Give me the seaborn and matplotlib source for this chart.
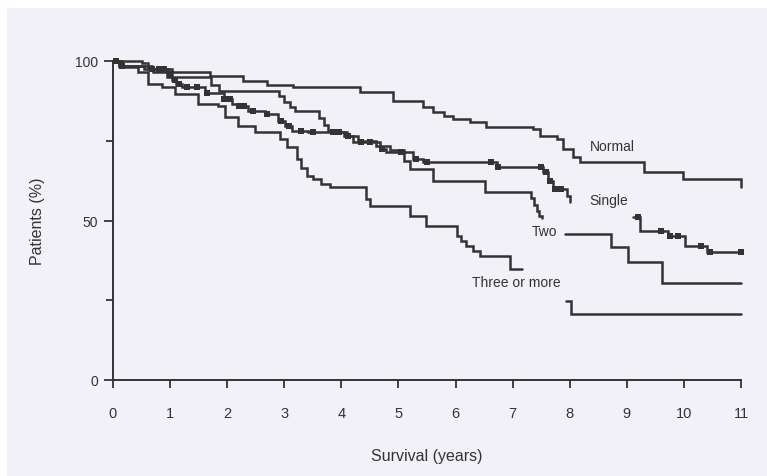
import numpy as np
import pandas as pd
import matplotlib
matplotlib.use("Agg")
import matplotlib.pyplot as plt
from matplotlib.patches import Rectangle
import seaborn as sns

# ---------------- data ----------------
normal_t = [0, 0.5, 0.62, 1.03, 1.7, 2.28, 2.69, 3.16, 4.33, 4.91, 5.43, 5.6, 5.8, 5.95,
            6.25, 6.54, 7.36, 7.48, 7.77, 7.89, 8.05, 8.18, 9.3, 9.99, 11.0]
normal_s = [100, 99.5, 97.5, 96.6, 95.4, 93.6, 92.6, 91.8, 90.4, 87.4, 85.5, 84.0, 82.8, 81.8,
            80.8, 79.2, 78.7, 76.6, 75.5, 72.4, 70.0, 68.2, 65.1, 63.0, 60.5]

single_t1 = [0, 0.1, 0.68, 0.97, 1.03, 1.11, 1.2, 1.61, 1.95, 2.08, 2.19, 2.37, 2.66, 2.89,
             3.01, 3.13, 3.42, 4.09, 4.21, 4.68, 4.79, 5.26, 5.43, 6.72, 7.54, 7.62, 7.71,
             7.95, 8.0]
single_s1 = [100, 98.5, 97.5, 95.9, 94.2, 92.8, 91.8, 90.1, 88.1, 86.5, 86.0, 84.4, 83.4, 81.3,
             79.7, 78.1, 77.6, 76.6, 74.5, 72.4, 71.4, 69.3, 68.2, 66.7, 65.1, 62.5, 59.9,
             57.8, 55.7]
single_t2 = [9.11, 9.23, 9.73, 10.02, 10.41, 11.0]
single_s2 = [51.0, 46.8, 45.2, 42.1, 40.0, 40.0]
single_censor_t = [0.05, 0.15, 0.68, 0.8, 0.9, 1.0, 1.08, 1.15, 1.3, 1.47, 1.65, 1.95, 2.05,
                   2.2, 2.3, 2.45, 2.7, 2.95, 3.08, 3.3, 3.5, 3.85, 3.95, 4.12, 4.35, 4.5,
                   4.72, 5.05, 5.3, 5.5, 6.62, 6.75, 7.5, 7.58, 7.66, 7.75, 7.85,
                   9.2, 9.6, 9.75, 9.9, 10.3, 10.45, 11.0]

two_t1 = [0, 0.1, 0.55, 0.7, 0.94, 1.72, 1.85, 2.9, 3.0, 3.1, 3.19, 3.6, 3.7, 3.77, 3.83,
          4.05, 4.3, 4.6, 4.85, 5.1, 5.2, 5.61, 6.51, 7.33, 7.38, 7.43, 7.47, 7.51]
two_s1 = [100, 98.5, 97.5, 96.5, 94.9, 92.5, 90.5, 89.0, 87.0, 85.5, 84.4, 82.0, 80.0, 78.1,
          77.6, 76.6, 75.0, 73.5, 72.0, 68.5, 66.1, 62.5, 59.0, 57.0, 55.0, 53.0, 51.5, 50.7]
two_t2 = [7.92, 8.73, 9.02, 9.61, 11.0]
two_s2 = [45.8, 41.6, 36.9, 30.4, 30.4]

three_t1 = [0, 0.15, 0.44, 0.62, 0.85, 1.09, 1.49, 1.84, 1.96, 2.19, 2.49, 2.92, 3.05, 3.22,
            3.3, 3.39, 3.51, 3.65, 3.8, 4.44, 4.5, 5.2, 5.49, 6.02, 6.1, 6.19, 6.3, 6.43,
            6.95, 7.16]
three_s1 = [100, 98.0, 96.4, 92.8, 91.8, 89.7, 86.5, 86.0, 82.3, 79.7, 77.6, 75.5, 73.0, 69.3,
            66.5, 64.0, 63.0, 61.5, 60.4, 56.7, 54.6, 51.5, 48.4, 45.2, 43.5, 42.1, 40.5, 39.0,
            34.8, 34.8]
three_t2 = [7.94, 8.03, 11.0]
three_s2 = [24.9, 20.7, 20.7]

curve_labels = ["Normal", "Single", "Two", "Three or more"]
label_x = [8.35, 8.35, 7.34, 6.29]
label_y = [73.5, 56.3, 46.6, 30.6]

x_ticks = list(range(0, 12))
y_ticks = [0, 50, 100]
y_minor = [25, 75]

# ---------------- build table ----------------
segments = [
    ("normal", normal_t, normal_s),
    ("single_a", single_t1, single_s1),
    ("single_b", single_t2, single_s2),
    ("two_a", two_t1, two_s1),
    ("two_b", two_t2, two_s2),
    ("three_a", three_t1, three_s1),
    ("three_b", three_t2, three_s2),
]
rows = []
for name, ts, ss in segments:
    for t, s in zip(ts, ss):
        rows.append({"seg": name, "t": t, "s": s})
df = pd.DataFrame(rows)

# censor marks placed on the Single curve (step lookup of its own values)
def step_value(ts, ss, x):
    i = np.searchsorted(np.asarray(ts), x, side="right") - 1
    return ss[max(i, 0)]

cens_y = []
for c in single_censor_t:
    if c <= single_t1[-1]:
        cens_y.append(step_value(single_t1, single_s1, c))
    else:
        cens_y.append(step_value(single_t2, single_s2, c))
cens = pd.DataFrame({"t": single_censor_t, "s": cens_y})

# ---------------- style ----------------
sns.set_style("ticks")
plt.rcParams["font.family"] = ["Liberation Sans", "DejaVu Sans"]
ink = "#333333"
bg = "#f2f1f8"

fig = plt.figure(figsize=(7.67, 4.77), dpi=100)
fig.patch.set_facecolor("white")
fig.patches.append(Rectangle((7 / 767, 0), 1 - 7 / 767, 1 - 9 / 477,
                             transform=fig.transFigure, facecolor=bg,
                             edgecolor="none", zorder=-10))

ax = fig.add_axes([113 / 767, 1 - 381 / 477, (741 - 113) / 767, (381 - 62) / 477])
ax.set_facecolor("none")

sns.lineplot(data=df, x="t", y="s", units="seg", estimator=None, sort=False,
             drawstyle="steps-post", color=ink, linewidth=1.8, clip_on=False,
             solid_joinstyle="miter", ax=ax, legend=False)
sns.scatterplot(data=cens, x="t", y="s", marker="s", s=17, color=ink,
                linewidth=0, clip_on=False, ax=ax, legend=False, zorder=3)

for lab, lx, ly in zip(curve_labels, label_x, label_y):
    ax.text(lx, ly, lab, fontsize=10, color=ink, ha="left", va="center")

ax.set_xlim(0, 11)
ax.set_ylim(0, 100)
ax.set_xticks(x_ticks)
ax.set_xticklabels([str(v) for v in x_ticks])
ax.set_yticks(y_ticks)
ax.set_yticklabels([str(v) for v in y_ticks])
ax.set_yticks(y_minor, minor=True)

for side in ["top", "right"]:
    ax.spines[side].set_visible(False)
for side in ["left", "bottom"]:
    ax.spines[side].set_color(ink)
    ax.spines[side].set_linewidth(1.4)

ax.tick_params(axis="x", which="major", direction="out", length=6, width=1.3,
               color=ink, labelcolor=ink, labelsize=10.5, pad=13)
ax.tick_params(axis="y", which="major", direction="out", length=6.5, width=1.3,
               color=ink, labelcolor=ink, labelsize=10, pad=4)
ax.tick_params(axis="y", which="minor", direction="out", length=5, width=1.3, color=ink)

ax.set_xlabel("Survival (years)", fontsize=11.5, color=ink, labelpad=20)
ax.set_ylabel("Patients (%)", fontsize=11.5, color=ink, labelpad=22)

fig.savefig("out.png", dpi=100, facecolor=fig.get_facecolor())
